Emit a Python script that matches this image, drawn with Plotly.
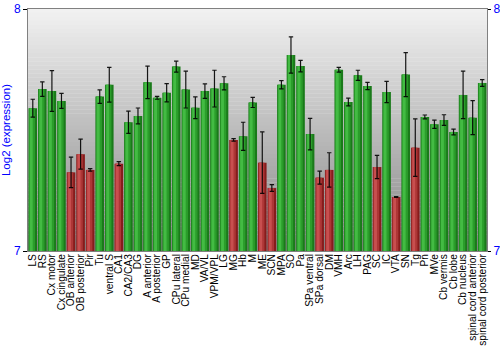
import plotly.graph_objects as go

regions = ["LS", "RS", "Cx motor", "Cx cingulate", "OB anterior", "OB posterior", "Pir", "Tu",
           "ventral S", "CA1", "CA2/CA3", "DG", "A anterior", "A posterior", "GP", "CPu lateral",
           "CPu medial", "MD", "VA/VL", "VPM/VPL", "LG", "MG", "Hb", "M", "ME", "SCN", "MPA", "SO",
           "Pa", "SPa ventral", "SPa dorsal", "DM", "VMH", "Arc", "LH", "PAG", "SC", "IC", "VTA",
           "SN", "Tg", "Pn", "MVe", "Cb vermis", "Cb lobe", "Cb nucleus", "spinal cord anterior",
           "spinal cord posterior"]

expression = [7.590, 7.669, 7.661, 7.620, 7.325, 7.400, 7.335, 7.638,
              7.687, 7.361, 7.532, 7.558, 7.697, 7.633, 7.654, 7.762,
              7.667, 7.592, 7.661, 7.671, 7.693, 7.459, 7.474, 7.614, 7.365, 7.260, 7.687, 7.810,
              7.764, 7.483, 7.303, 7.335, 7.749, 7.616, 7.726, 7.682, 7.347, 7.657, 7.223,
              7.729, 7.427, 7.554, 7.524, 7.541, 7.492, 7.645, 7.551,
              7.694]

error = [0.037, 0.030, 0.084, 0.031, 0.063, 0.062, 0.005, 0.028,
         0.072, 0.008, 0.046, 0.033, 0.067, 0.006, 0.038, 0.023,
         0.076, 0.045, 0.030, 0.076, 0.027, 0.005, 0.058, 0.021, 0.127, 0.014, 0.017, 0.075,
         0.024, 0.065, 0.027, 0.071, 0.010, 0.016, 0.021, 0.015, 0.048, 0.044, 0.002,
         0.091, 0.119, 0.008, 0.017, 0.022, 0.012, 0.098, 0.070,
         0.014]

low = [False, False, False, False, True, True, True, False,
       False, True, False, False, False, False, False, False,
       False, False, False, False, False, True, False, False, True, True, False, False,
       False, False, True, True, False, False, False, False, True, False, True,
       False, True, False, False, False, False, False, False,
       False]

y_range = [7, 8]
y_ticks = [7, 8]

def pick(g, r):
    return [r if f else g for f in low]

fig = go.Figure()

# background gradient (light top -> grey bottom)
n = 60
top = (242, 242, 242)
bot = (134, 134, 134)
for i in range(n):
    t = (i + 0.5) / n
    c = tuple(int(round(top[k] + (bot[k] - top[k]) * t)) for k in range(3))
    fig.add_shape(type="rect", xref="paper", yref="paper", x0=0, x1=1,
                  y0=1 - (i + 1) / n, y1=1 - i / n + 0.001, layer="below",
                  line=dict(width=0), fillcolor="rgb(%d,%d,%d)" % c)

layers = [
    (0.9, -0.45, pick("#1a7a1a", "#861c1c")),
    (0.62, -0.39, pick("#2b9d2b", "#ad3636")),
    (0.3, -0.31, pick("#43bb43", "#c84f4f")),
]
for w, off, col in layers:
    fig.add_trace(go.Bar(x=regions, y=[v - 7 for v in expression], base=7,
                         width=w, offset=off, marker=dict(color=col, line=dict(width=0)),
                         showlegend=False, hoverinfo="skip"))

fig.add_trace(go.Bar(x=regions, y=[v - 7 for v in expression], base=7, width=0.9,
                     marker=dict(color="rgba(0,0,0,0)", line=dict(width=0)),
                     error_y=dict(type="data", array=error, color="rgba(0,0,0,0.9)",
                                  thickness=1.2, width=2.2),
                     showlegend=False))

fig.add_trace(go.Scatter(x=[regions[0]], y=[7.5], yaxis="y2", mode="markers",
                         marker=dict(opacity=0), showlegend=False, hoverinfo="skip"))

fig.update_layout(
    width=500, height=350,
    margin=dict(l=28, r=13, t=9, b=99),
    paper_bgcolor="white", plot_bgcolor="rgba(0,0,0,0)",
    barmode="overlay",
    font=dict(family="Liberation Sans, Arial, sans-serif"),
    xaxis=dict(type="category", tickangle=-90, tickfont=dict(size=10.2, color="black"),
               tickmode="array", tickvals=regions, ticktext=regions,
               ticklabelstandoff=-2, automargin=False,
               showline=True, linecolor="#808080", linewidth=1, mirror=True,
               showgrid=False, ticks="", range=[-0.5, len(regions) - 0.5]),
    yaxis=dict(range=y_range, tickvals=y_ticks, tickfont=dict(size=12, color="#0000ff"),
               showline=True, linecolor="#808080", linewidth=1, ticks="outside",
               ticklen=4, tickcolor="black", showgrid=False, zeroline=False,
               automargin=False,
               title=dict(text="Log2 (expression)", font=dict(size=11.5, color="#0000ff"),
                          standoff=4)),
    yaxis2=dict(range=y_range, tickvals=y_ticks, tickfont=dict(size=12, color="#0000ff"),
                overlaying="y", side="right", showline=True, linecolor="#808080",
                ticks="outside", ticklen=3, tickcolor="black", showgrid=False,
                zeroline=False, automargin=False),
)

fig.write_html("out.html")
